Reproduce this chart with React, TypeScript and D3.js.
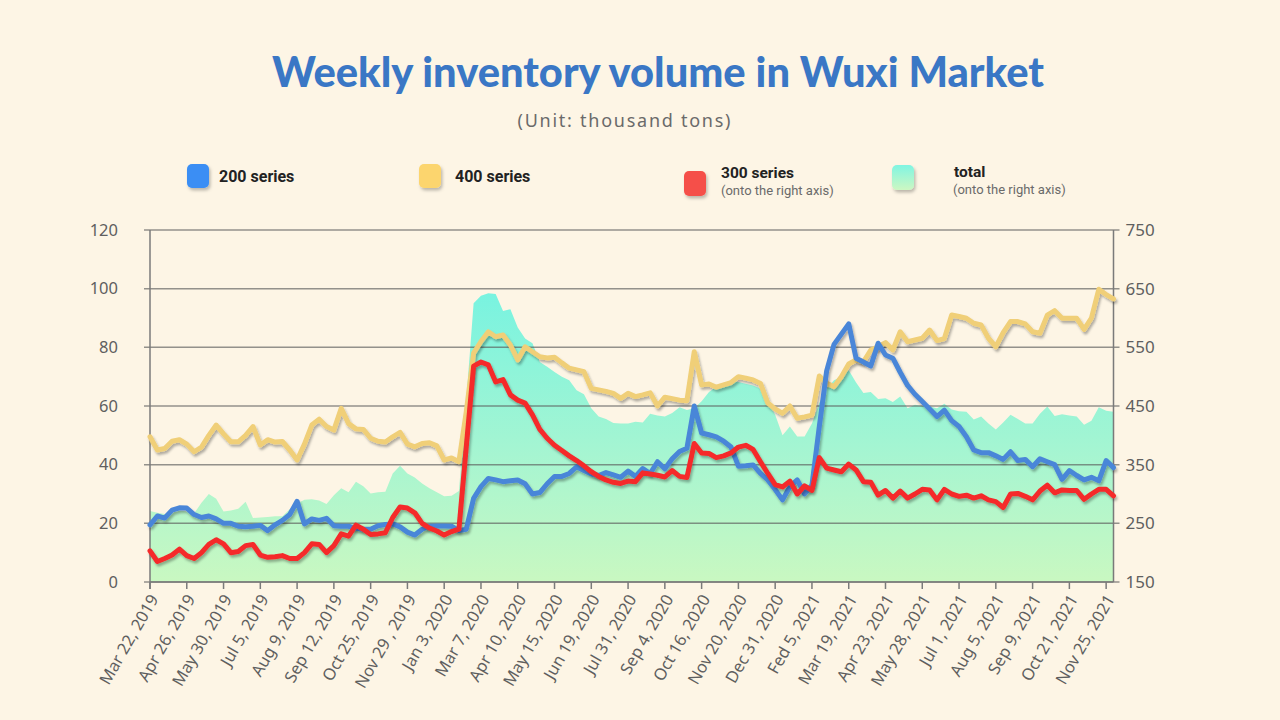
import * as d3 from 'd3';

// every 5th week gets a label
const tickLabels = [
  'Mar 22, 2019', 'Apr 26, 2019', 'May 30, 2019', 'Jul 5, 2019', 'Aug 9, 2019',
  'Sep 12, 2019', 'Oct 25, 2019', 'Nov 29 , 2019', 'Jan 3, 2020', 'Mar 7, 2020',
  'Apr 10, 2020', 'May 15, 2020', 'Jun 19, 2020', 'Jul 31, 2020', 'Sep 4, 2020',
  'Oct 16, 2020', 'Nov 20, 2020', 'Dec 31, 2020', 'Fed 5, 2021', 'Mar 19, 2021',
  'Apr 23, 2021', 'May 28, 2021', 'Jul 1, 2021', 'Aug 5, 2021', 'Sep 9, 2021',
  'Oct 21, 2021', 'Nov 25, 2021',
];

const leftTicks = [0, 20, 40, 60, 80, 100, 120];
const rightTicks = [150, 250, 350, 450, 550, 650, 750];

// left axis
const series200 = [
  19.5, 22.5, 21.8, 24.5, 25.3, 25.2, 23, 22, 22.5, 21.5,
  20, 20, 19, 18.8, 19, 19.3, 17.5, 19.5, 21, 23,
  27.5, 19.8, 21.5, 21, 21.7, 19.2, 19, 19, 18.3, 18,
  18, 19.2, 19.6, 19.8, 18.8, 17, 16, 18, 19, 19.1,
  19.1, 19, 17.5, 18, 28.5, 32.5, 35.3, 34.8, 34.2, 34.5,
  34.8, 33.5, 30, 30.5, 33.5, 36, 36, 37, 39.3, 38,
  36.8, 36.3, 37.3, 36.5, 35.7, 37.8, 36, 38.7, 37, 41,
  38.6, 42, 44.5, 45.6, 60, 50.8, 50.2, 49.5, 48, 46,
  39.5, 39.6, 39.9, 37, 34.8, 31.5, 28, 32.5, 34.8, 30,
  33, 53, 72, 81, 84.5, 88, 76.3, 75, 73.6, 81.4,
  77.4, 76.3, 71.5, 67, 64, 61.5, 59, 56.4, 58.6, 55,
  53, 49.5, 45, 44.1, 44.1, 43, 41.8, 44.4, 41.4, 41.8,
  39.3, 42, 41, 40, 35, 38, 36.3, 34.8, 35.7, 34.5,
  41.4, 39,
];

const series400 = [
  49.5, 45, 45.5, 48, 48.5, 47, 44.4, 46, 50, 53.5,
  50.5, 47.8, 47.8, 50, 53, 46.7, 48.5, 47.7, 47.9, 45,
  41.6, 47, 53.5, 55.5, 53, 51.8, 59.2, 54, 52.2, 52,
  49, 48, 47.7, 49.5, 51, 47, 46.1, 47.2, 47.5, 46.4,
  41.6, 42.3, 41, 58, 78, 82, 85.3, 83.6, 84.2, 80.8,
  75.7, 80.2, 78.5, 76.8, 76.4, 76.6, 74.7, 72.9, 72.3, 71.7,
  66, 65.5, 65, 64.3, 62.6, 64.3, 63.2, 63.8, 64.5, 60,
  63, 62.5, 62, 61.8, 78.5, 67.2, 67.5, 66.4, 67.2, 68,
  70, 69.5, 68.9, 67.7, 61, 59, 57.5, 60, 55.8, 56.3,
  56.9, 70.2, 67.7, 66.6, 70, 74.3, 75.7, 75.1, 79.1, 80.2,
  81.6, 79.1, 85.3, 81.9, 82.5, 83.1, 85.9, 82.3, 83, 91,
  90.5, 89.9, 88.2, 87.6, 83.1, 80.2, 85, 88.8, 88.8, 88,
  85.3, 84.8, 91, 92.5, 89.9, 89.9, 89.9, 86.1, 90, 99.8,
  98, 96.5,
];

// right axis
const series300 = [
  203, 185, 190, 196, 206, 195, 190, 200, 214, 222,
  215, 200, 202, 212, 214, 196, 192, 193, 195, 190,
  190, 200, 215, 214, 200, 212, 232, 228, 247, 240,
  231, 232, 234, 260, 278, 276, 268, 250, 242, 237,
  230, 236, 240, 380, 518, 525, 520, 491, 495, 469,
  460, 455, 435, 410, 395, 383, 374, 365, 357, 348,
  338, 330, 324, 320, 318, 322, 321, 336, 334, 332,
  329, 340, 330, 328, 386, 370, 369, 362, 365, 370,
  380, 383, 376, 355, 335, 316, 312, 322, 300, 314,
  306, 362, 344, 341, 338, 351, 341, 321, 320, 298,
  306, 293, 305, 293, 300, 308, 307, 290, 308, 300,
  296, 298, 293, 297, 290, 287, 277, 300, 301, 296,
  290, 305, 315, 302, 307, 306, 306, 291, 300, 308,
  308, 297,
];

const totalSeries = [
  271, 268, 266, 268, 272, 270, 267, 285, 300, 292,
  270, 272, 275, 287, 259, 260, 261, 262, 262, 274,
  284, 290, 291, 289, 283, 298, 310, 303, 321, 313,
  301, 303, 304, 335, 348, 335, 328, 318, 310, 303,
  296, 297, 305, 460, 625, 638, 642, 641, 612, 615,
  584, 565, 557, 525, 517, 508, 500, 494, 477, 470,
  446, 432, 428, 421, 420, 420, 423, 422, 437, 434,
  432, 438, 448, 443, 446, 458, 474, 483, 488, 492,
  491, 488, 485, 480, 457, 435, 400, 415, 398, 398,
  420, 455, 480, 494, 500, 511, 490, 472, 474, 462,
  463, 457, 466, 446, 452, 450, 449, 446, 454, 444,
  441, 440, 427, 432, 420, 410, 422, 435, 428, 420,
  420, 437, 449, 433, 436, 434, 432, 418, 425, 448,
  442, 440,
];

const W = 1280;
const H = 720;
const plot = { left: 150, right: 1113.5, top: 230, bottom: 582 };
const axisColor = '#7a7a7a';
const labelColor = '#5f5f5f';
const font = "'Noto Sans', 'Open Sans', sans-serif";

export default function App() {
  const x = d3
    .scaleLinear()
    .domain([0, series200.length - 1])
    .range([plot.left, plot.right]);
  const yLeft = d3.scaleLinear().domain([0, 120]).range([plot.bottom, plot.top]);
  const yRight = d3.scaleLinear().domain([150, 750]).range([plot.bottom, plot.top]);

  const lineLeft = d3
    .line<number>()
    .x((_, i) => x(i))
    .y((d) => yLeft(d));
  const lineRight = d3
    .line<number>()
    .x((_, i) => x(i))
    .y((d) => yRight(d));
  const areaTotal = d3
    .area<number>()
    .x((_, i) => x(i))
    .y0(plot.bottom)
    .y1((d) => yRight(d));

  const lines = [
    { key: '400', data: series400, gen: lineLeft, color: '#f0cf78' },
    { key: '200', data: series200, gen: lineLeft, color: '#4a86d8' },
    { key: '300', data: series300, gen: lineRight, color: '#f52a2a' },
  ];

  return (
    <svg
      width={W}
      height={H}
      style={{ position: 'fixed', left: 0, top: 0, background: '#fdf5e5' }}
    >
      <defs>
        <filter id="shadow" x="-5%" y="-5%" width="110%" height="120%">
          <feDropShadow dx="1.5" dy="2.5" stdDeviation="1.2" floodColor="#000" floodOpacity="0.3" />
        </filter>
        <filter id="softShadow" x="-20%" y="-20%" width="150%" height="150%">
          <feDropShadow dx="1.5" dy="2.5" stdDeviation="1.5" floodColor="#000" floodOpacity="0.25" />
        </filter>
        <linearGradient id="totalFill" gradientUnits="userSpaceOnUse" x1="0" y1={yRight(660)} x2="0" y2={plot.bottom}>
          <stop offset="0%" stopColor="#76f3e1" />
          <stop offset="55%" stopColor="#a4f5d2" />
          <stop offset="100%" stopColor="#c9f8c1" />
        </linearGradient>
        <linearGradient id="totalSwatch" x1="0" y1="0" x2="0" y2="1">
          <stop offset="0%" stopColor="#80f5e2" />
          <stop offset="100%" stopColor="#cdf7c2" />
        </linearGradient>
      </defs>

      <rect width={W} height={H} fill="#fdf5e5" />

      {/* title */}
      <text
        x={658}
        y={87}
        textAnchor="middle"
        textLength={772}
        lengthAdjust="spacingAndGlyphs"
        fontFamily="Lato, 'Open Sans', sans-serif"
        fontWeight={900}
        fontSize={42}
        fill="#3a77c5"
      >
        Weekly inventory volume in Wuxi Market
      </text>
      <text
        x={624}
        y={127}
        textAnchor="middle"
        textLength={213}
        fontFamily={font}
        fontSize={18}
        fill="#6a6a6a"
      >
        (Unit: thousand tons)
      </text>

      {/* legend */}
      <g fontFamily="Roboto, 'Noto Sans', sans-serif">
        <rect x={187} y={164} width={22} height={24} rx={5} fill="#3a8ef4" filter="url(#softShadow)" />
        <text x={219} y={182} fontSize={16} fontWeight={700} fill="#222">200 series</text>
        <rect x={419} y={164} width={22} height={24} rx={5} fill="#fcd56e" filter="url(#softShadow)" />
        <text x={455} y={182} fontSize={16} fontWeight={700} fill="#222">400 series</text>
        <rect x={684} y={171} width={22} height={25} rx={5} fill="#f54f48" filter="url(#softShadow)" />
        <text x={721} y={178} fontSize={15.5} fontWeight={700} fill="#222">300 series</text>
        <text x={721} y={195} fontSize={13} fill="#6a6a6a">(onto the right axis)</text>
        <rect x={892} y={165} width={22} height={25} rx={5} fill="url(#totalSwatch)" filter="url(#softShadow)" />
        <text x={954} y={177} fontSize={15.5} fontWeight={700} fill="#222">total</text>
        <text x={953} y={194} fontSize={13} fill="#6a6a6a">(onto the right axis)</text>
      </g>

      {/* total area */}
      <path d={areaTotal(totalSeries) ?? ''} fill="url(#totalFill)" />

      {/* gridlines */}
      {leftTicks.map((t) => (
        <line
          key={t}
          x1={plot.left - 6}
          x2={plot.right + 6}
          y1={yLeft(t)}
          y2={yLeft(t)}
          stroke="#5a5a5a"
          strokeOpacity={0.65}
          strokeWidth={1.5}
        />
      ))}

      {/* axes */}
      <line x1={plot.left} x2={plot.left} y1={plot.top} y2={plot.bottom + 7} stroke={axisColor} strokeWidth={1.5} />
      <line x1={plot.right} x2={plot.right} y1={plot.top} y2={plot.bottom} stroke={axisColor} strokeWidth={1.5} />
      <line x1={plot.left} x2={plot.right} y1={plot.bottom} y2={plot.bottom} stroke={axisColor} strokeWidth={1.5} />

      {leftTicks.map((t) => (
        <text
          key={t}
          x={plot.left - 32}
          y={yLeft(t)}
          dy="0.35em"
          textAnchor="end"
          fontFamily={font}
          fontSize={16.5}
          fill={labelColor}
        >
          {t}
        </text>
      ))}
      {rightTicks.map((t) => (
        <text
          key={t}
          x={plot.right + 12}
          y={yRight(t)}
          dy="0.35em"
          textAnchor="start"
          fontFamily={font}
          fontSize={17}
          fill={labelColor}
        >
          {t}
        </text>
      ))}

      {tickLabels.map((label, k) => {
        const px = x(k * 5);
        return (
          <g key={label}>
            <line x1={px} x2={px} y1={plot.bottom} y2={plot.bottom + 7} stroke={axisColor} strokeWidth={1.5} />
            <text
              transform={`translate(${px + 4},${plot.bottom + 14}) rotate(-60)`}
              textAnchor="end"
              dy="0.35em"
              fontFamily={font}
              fontSize={16.5}
              fill={labelColor}
            >
              {label}
            </text>
          </g>
        );
      })}

      {/* series lines */}
      {lines.map((s) => (
        <path
          key={s.key}
          d={s.gen(s.data) ?? ''}
          fill="none"
          stroke={s.color}
          strokeWidth={5}
          strokeLinejoin="round"
          strokeLinecap="round"
          filter="url(#shadow)"
        />
      ))}
    </svg>
  );
}
